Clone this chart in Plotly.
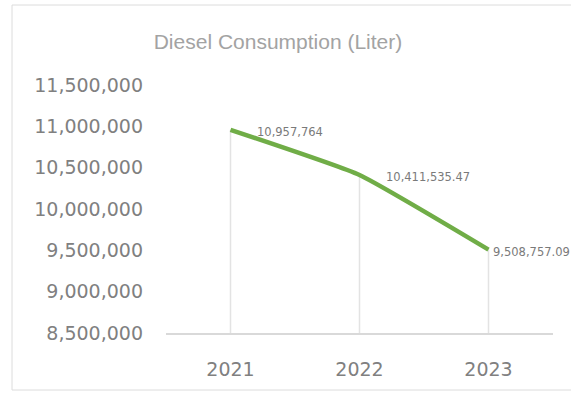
import plotly.graph_objects as go

years = ["2021", "2022", "2023"]
consumption = [10957764, 10411535.47, 9508757.09]
y_ticks = [8500000, 9000000, 9500000, 10000000, 10500000, 11000000, 11500000]
title_text = "Diesel Consumption (Liter)"

def fmt(v):
    s = f"{v:,.2f}"
    return s[:-3] if s.endswith(".00") else s

labels = [fmt(v) for v in consumption]
base = y_ticks[0]

W, H = 571, 396
L, R, T, B = 166, 18, 85, 63
pw, ph = W - L - R, H - T - B

def px2paper_x(px):
    return (px - L) / pw

def px2paper_y(py):
    return (H - B - py) / ph

fig = go.Figure()
fig.add_trace(go.Scatter(
    x=years, y=consumption, mode="lines",
    line=dict(color="#70AD47", width=4.5, shape="spline", smoothing=0.4),
    error_y=dict(type="data", symmetric=False,
                 array=[0] * len(consumption),
                 arrayminus=[v - base for v in consumption],
                 color="#e3e3e3", thickness=1.5, width=0),
    hoverinfo="skip", showlegend=False,
))

label_shift = [24, 24, 2]
for i, (v, t, sh) in enumerate(zip(consumption, labels, label_shift)):
    fig.add_annotation(x=i, y=v, xref="x", yref="y", text=t, showarrow=False,
                       xanchor="left", yanchor="middle", xshift=sh, yshift=-2,
                       font=dict(family="DejaVu Sans", size=11.5, color="#7a7a7a"))

# chart frame
fig.add_shape(type="rect", xref="paper", yref="paper",
              x0=px2paper_x(12), x1=px2paper_x(580),
              y0=px2paper_y(390), y1=px2paper_y(5),
              line=dict(color="#dcdcdc", width=1), fillcolor="rgba(0,0,0,0)",
              layer="below")

fig.update_layout(
    width=W, height=H,
    margin=dict(l=L, r=R, t=T, b=B),
    paper_bgcolor="white", plot_bgcolor="white",
    title=dict(text=title_text, x=278 / W, xanchor="center", xref="container",
               y=1 - 42 / H, yanchor="middle", yref="container",
               font=dict(family="Liberation Sans", size=21, color="#a3a3a3")),
    xaxis=dict(type="category", range=[-0.5, 2.5], showgrid=False,
               showline=True, linecolor="#d9d9d9", linewidth=1.5,
               ticks="", tickfont=dict(family="DejaVu Sans", size=19, color="#808080"),
               ticklabelstandoff=18, fixedrange=True),
    yaxis=dict(range=[8500000, 11500000], tickvals=y_ticks,
               ticktext=[f"{v:,}" for v in y_ticks],
               showgrid=False, zeroline=False, showline=False, ticks="",
               tickfont=dict(family="DejaVu Sans", size=19, color="#808080"),
               ticklabelstandoff=22, fixedrange=True),
)

fig.write_html("out.html")
